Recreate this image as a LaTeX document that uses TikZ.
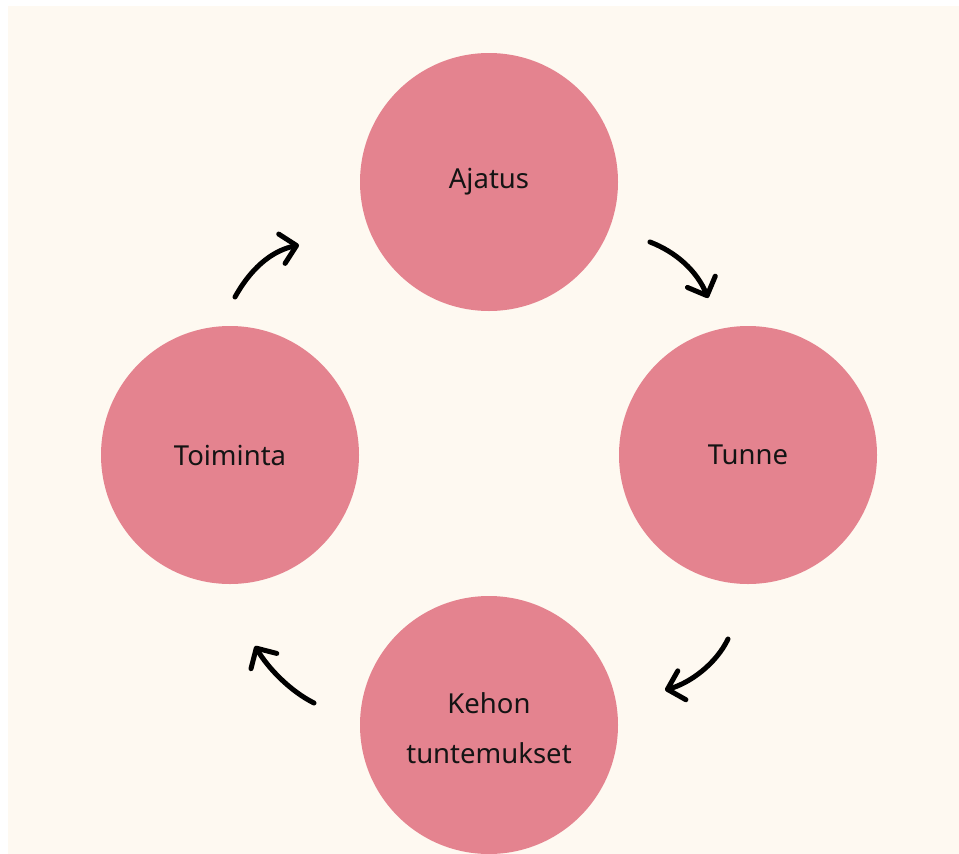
\documentclass[tikz,border=0pt]{standalone}
\usepackage{fontspec}
\setmainfont{Noto Sans}
\usetikzlibrary{arrows.meta}
\definecolor{cream}{HTML}{FEF9F1}
\definecolor{petal}{HTML}{E4838F}
\definecolor{ink}{HTML}{141414}
\tikzset{
  petalnode/.style={circle, fill=petal, draw=none, minimum size=258pt, inner sep=0pt,
    text=ink, font=\fontsize{27.5}{50}\selectfont, align=center},
  cyclearrow/.style={line width=5pt, line cap=round, black,
    -{Straight Barb[length=15pt, width=30pt, round]}}
}
\begin{document}
\begin{tikzpicture}[x=1pt, y=-1pt]
\useasboundingbox (0,0) rectangle (959,854);
\fill[white] (0,0) rectangle (959,854);
\fill[cream] (8,6) rectangle (959,854);
\begin{scope}
\clip (8,6) rectangle (959,854);
\node[petalnode] (ajatus) at (489,182) {Ajatus};
\node[petalnode] (tunne) at (748,455) {Tunne};
\node[petalnode] (toiminta) at (230,455) {Toiminta};
\node[petalnode] (kehon) at (489,725) {};
\node[text=ink, font=\fontsize{27.5}{50}\selectfont, align=center] (kehontext) at (489,728) {Kehon\\tuntemukset};
\end{scope}
\coordinate (a1s) at (235,297); \coordinate (a1e) at (299,245);
\coordinate (a2s) at (650,242); \coordinate (a2e) at (708,298);
\coordinate (a3s) at (728,639); \coordinate (a3e) at (665,690);
\coordinate (a4s) at (314,703); \coordinate (a4e) at (255,646);
\draw[cyclearrow] (a1s) .. controls (254,263) and (276,250) .. (a1e);
\draw[cyclearrow] (a2s) .. controls (676,252) and (697,271) .. (a2e);
\draw[cyclearrow] (a3s) .. controls (716,664) and (690,683) .. (a3e);
\draw[cyclearrow] (a4s) .. controls (290,691) and (268,668) .. (a4e);
\end{tikzpicture}
\end{document}
